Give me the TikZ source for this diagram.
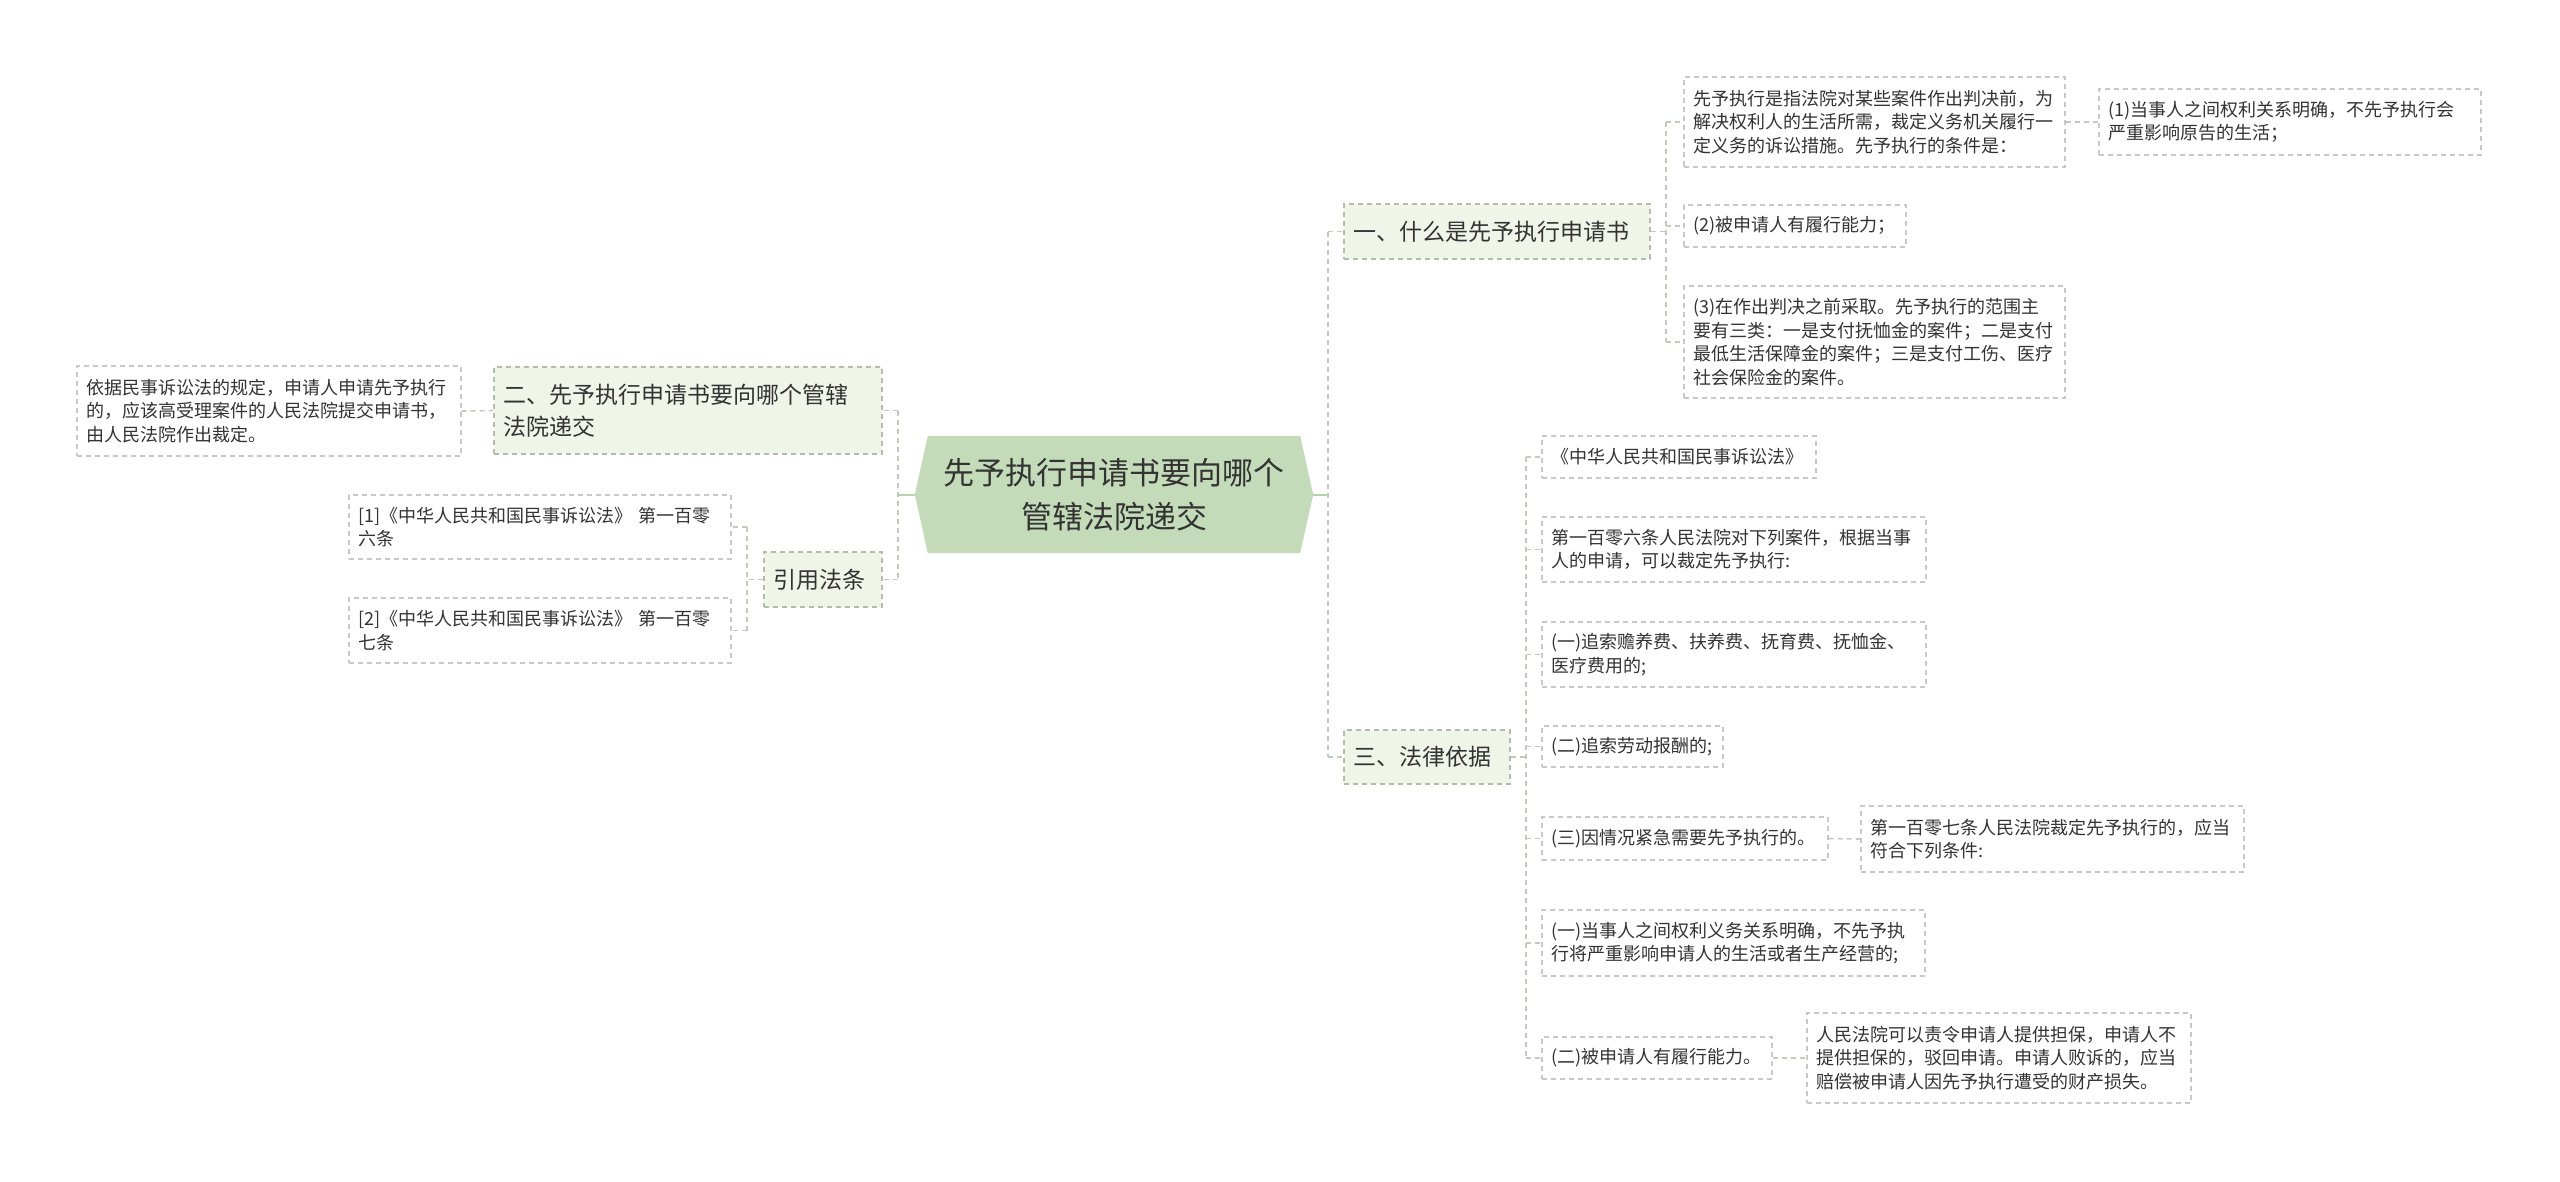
\documentclass[tikz,border=0pt]{standalone}
\usepackage{fontspec}
\setmainfont{Noto Sans CJK SC}
\usepackage{xcolor}
\usetikzlibrary{backgrounds}
\definecolor{rootgreen}{HTML}{C3DBB8}
\definecolor{rootlinkc}{HTML}{B7D2AB}
\definecolor{branchfill}{HTML}{EFF5E8}
\definecolor{branchline}{HTML}{B3BCAD}
\definecolor{leafline}{HTML}{C8C8C8}
\definecolor{linkgray}{HTML}{C3C9BF}
\definecolor{txt}{HTML}{333333}

\begin{document}
\begin{tikzpicture}[x=1pt, y=-1pt,
  box/.style={draw, dash pattern=on 5pt off 4pt, line width=1.4pt, inner xsep=9pt, inner ysep=0pt, align=left, text=txt},
  leaf/.style={box, draw=leafline, fill=white, font=\fontsize{18}{23.5}\selectfont},
  branch/.style={box, draw=branchline, fill=branchfill, font=\fontsize{23}{32}\selectfont},
  link/.style={draw=linkgray, dash pattern=on 5pt off 4pt, line width=1.6pt},
  rootlink/.style={draw=rootlinkc, line width=2pt}]
  \useasboundingbox (0,0) rectangle (2560,1181);
  % Noeud central
  \node[align=center, text=txt, minimum width=372pt, minimum height=117pt, inner sep=0pt,
    font=\fontsize{31}{44}\selectfont] (root) at (1114,494.5) {先予执行申请书要向哪个\\管辖法院递交};
  \begin{scope}[on background layer]
    \fill[rootgreen] (root.north west) -- (root.north east) -- ([xshift=13pt]root.east)
      -- (root.south east) -- (root.south west) -- ([xshift=-13pt]root.west) -- cycle;
  \end{scope}
  % Branches (gauche)
  \node[branch, text width=370pt, minimum height=87pt] (b2) at (688,410.5) {二、先予执行申请书要向哪个管辖\\法院递交};
  \node[branch, text width=100pt, minimum height=55pt] (b4) at (823,579.5) {引用法条};
  \node[leaf, text width=366pt, minimum height=90pt] (l1) at (269,411) {依据民事诉讼法的规定，申请人申请先予执行\\的，应该高受理案件的人民法院提交申请书，\\由人民法院作出裁定。};
  \node[leaf, text width=364pt, minimum height=64pt] (l2) at (540,527) {[1]《中华人民共和国民事诉讼法》 第一百零\\六条};
  \node[leaf, text width=364pt, minimum height=65pt] (l3) at (540,630.5) {[2]《中华人民共和国民事诉讼法》 第一百零\\七条};
  % Branches (droite)
  \node[branch, text width=288pt, minimum height=55pt] (b1) at (1497,231.5) {一、什么是先予执行申请书};
  \node[branch, text width=148pt, minimum height=54pt] (b3) at (1427,757) {三、法律依据};
  % Feuilles de la branche un
  \node[leaf, text width=363pt, minimum height=90pt] (a1) at (1874.5,122) {先予执行是指法院对某些案件作出判决前，为\\解决权利人的生活所需，裁定义务机关履行一\\定义务的诉讼措施。先予执行的条件是：};
  \node[leaf, text width=364pt, minimum height=66pt] (a1x) at (2290,122) {(1)当事人之间权利关系明确，不先予执行会\\严重影响原告的生活；};
  \node[leaf, text width=204pt, minimum height=42pt] (a2) at (1795,226) {(2)被申请人有履行能力；};
  \node[leaf, text width=363pt, minimum height=112pt] (a3) at (1874.5,342) {(3)在作出判决之前采取。先予执行的范围主\\要有三类：一是支付抚恤金的案件；二是支付\\最低生活保障金的案件；三是支付工伤、医疗\\社会保险金的案件。};
  % Feuilles de la branche trois
  \node[leaf, text width=256pt, minimum height=42pt] (c1) at (1679,457) {《中华人民共和国民事诉讼法》};
  \node[leaf, text width=366pt, minimum height=65pt] (c2) at (1734,549.5) {第一百零六条人民法院对下列案件，根据当事\\人的申请，可以裁定先予执行:};
  \node[leaf, text width=366pt, minimum height=65pt] (c3) at (1734,654.5) {(一)追索赡养费、扶养费、抚育费、抚恤金、\\医疗费用的;};
  \node[leaf, text width=163pt, minimum height=41pt] (c4) at (1632.5,746.5) {(二)追索劳动报酬的;};
  \node[leaf, text width=268pt, minimum height=43pt] (c5) at (1685,838.5) {(三)因情况紧急需要先予执行的。};
  \node[leaf, text width=365pt, minimum height=66pt] (c5x) at (2052.5,839) {第一百零七条人民法院裁定先予执行的，应当\\符合下列条件:};
  \node[leaf, text width=365pt, minimum height=66pt] (c6) at (1733.5,943) {(一)当事人之间权利义务关系明确，不先予执\\行将严重影响申请人的生活或者生产经营的;};
  \node[leaf, text width=212pt, minimum height=42pt] (c7) at (1657,1058) {(二)被申请人有履行能力。};
  \node[leaf, text width=366pt, minimum height=90pt] (c7x) at (1999,1058) {人民法院可以责令申请人提供担保，申请人不\\提供担保的，驳回申请。申请人败诉的，应当\\赔偿被申请人因先予执行遭受的财产损失。};
  % Colonnes des liens
  \coordinate (sL) at (898,0);
  \coordinate (s4) at (747,0);
  \coordinate (sR) at (1328,0);
  \coordinate (s1) at (1666,0);
  \coordinate (s3) at (1526,0);
  % Liens a gauche
  \draw[rootlink] (root.west) ++(-13,0) -- (root.west -| sL);
  \draw[link] (b2.east -| sL) -- (b4.east -| sL);
  \foreach \n in {b2,b4}{
    \draw[link] (\n.east -| sL) -- (\n.east);
  }
  \draw[link] (l1.east) -- (b2.west);
  \draw[link] (b4.west) -- (b4.west -| s4);
  \draw[link] (l2.east -| s4) -- (l3.east -| s4);
  \foreach \n in {l2,l3}{
    \draw[link] (\n.east -| s4) -- (\n.east);
  }
  % Liens a droite
  \draw[rootlink] (root.east) ++(13,0) -- (root.east -| sR);
  \draw[link] (b1.west -| sR) -- (b3.west -| sR);
  \foreach \n in {b1,b3}{
    \draw[link] (\n.west -| sR) -- (\n.west);
  }
  \draw[link] (b1.east) -- (b1.east -| s1);
  \draw[link] (a1.west -| s1) -- (a3.west -| s1);
  \foreach \n in {a1,a2,a3}{
    \draw[link] (\n.west -| s1) -- (\n.west);
  }
  \draw[link] (a1.east) -- (a1x.west);
  \draw[link] (b3.east) -- (b3.east -| s3);
  \draw[link] (c1.west -| s3) -- (c7.west -| s3);
  \foreach \n in {c1,c2,c3,c4,c5,c6,c7}{
    \draw[link] (\n.west -| s3) -- (\n.west);
  }
  \draw[link] (c5.east) -- (c5x.west);
  \draw[link] (c7.east) -- (c7x.west);
\end{tikzpicture}
\end{document}
